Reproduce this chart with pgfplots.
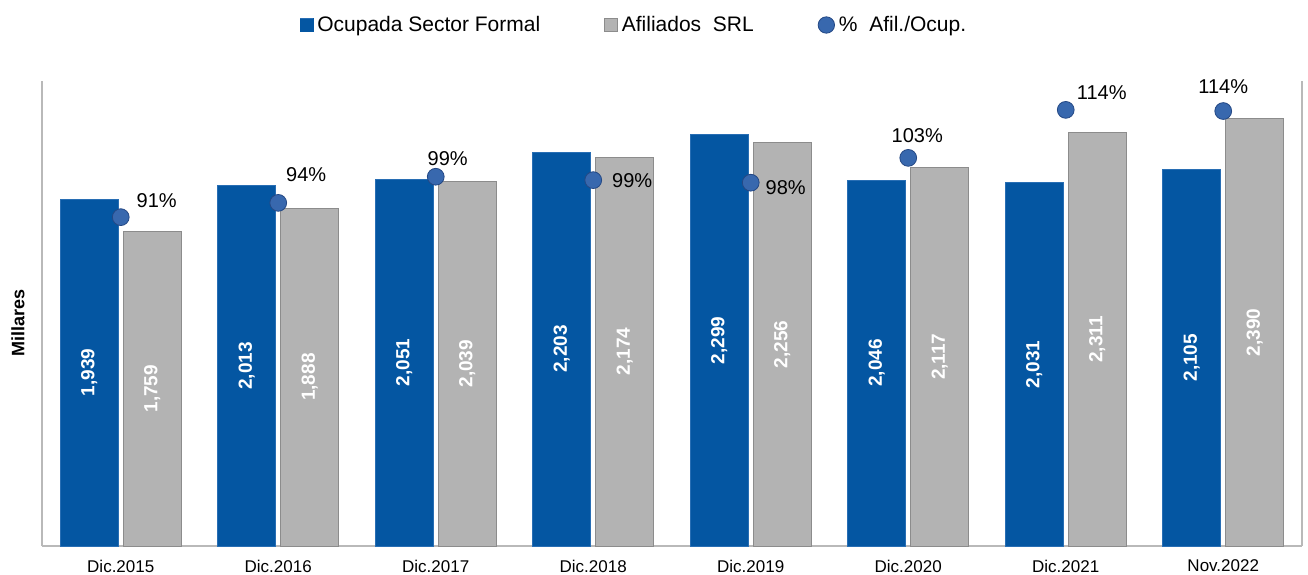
\documentclass[border=0pt]{standalone}
\usepackage{fontspec}
\setmainfont{Liberation Sans}
\usepackage{pgfplots}
\pgfplotsset{compat=1.18}
\usepackage{pgfplotstable}

\definecolor{azul}{RGB}{4,86,162}
\definecolor{azulborde}{RGB}{40,110,180}
\definecolor{gris}{RGB}{179,179,179}
\definecolor{grisborde}{RGB}{140,140,140}
\definecolor{bola}{RGB}{56,104,174}
\definecolor{bolaborde}{RGB}{36,72,132}
\definecolor{eje}{RGB}{185,185,185}

% miles de personas y relacion afiliados/ocupados (%)
\pgfplotstableread{
x ocup afil pct dx dy
0 1939 1759 90.72 18 8.5
1 2013 1888 93.79 14 14
2 2051 2039 99.41 6 9
3 2203 2174 98.68 19.5 0
4 2299 2256 98.13 17.5 -2.5
5 2046 2117 103.47 4.5 11
6 2031 2311 113.79 18 8.5
7 2105 2390 113.54 0 12
}\datos

\pgfplotsset{
  base/.style={
    scale only axis, width=630pt, height=232.5pt,
    xmin=-0.5, xmax=7.5,
    ytick=\empty,
    axis line style={eje, line width=0.6pt},
    /pgf/number format/assume math mode=true,
  },
}

\begin{document}
\begin{tikzpicture}
\useasboundingbox (-21pt,-14pt) rectangle (633pt,273pt);
\begin{axis}[
  base,
  ymin=0, ymax=2600,
  axis x line*=bottom, axis y line*=left,
  xtick={0,...,7},
  xticklabels={Dic.2015,Dic.2016,Dic.2017,Dic.2018,Dic.2019,Dic.2020,Dic.2021,Nov.2022},
  major tick length=0pt,
  xticklabel style={font=\fontsize{8.5}{10}\selectfont, yshift=-3.5pt},
  ylabel={Millares},
  ylabel style={at={(axis description cs:-0.019,0.48)}, anchor=center,
    font=\fontsize{9}{10}\selectfont\bfseries},
  /pgf/number format/1000 sep={,},
  every node near coord/.append style={text=white,
    font=\fontsize{9.5}{11}\selectfont\bfseries},
]
\addplot[ybar, bar width=0.37, bar shift=-0.2, fill=azul, draw=azulborde, line width=0.5pt,
  nodes near coords,
  visualization depends on={\thisrow{ocup} \as \alto},
  every node near coord/.append style={shift={(axis direction cs:-0.2,-\alto/2)}, rotate=90, anchor=center},
] table[x=x, y=ocup] {\datos};
\addplot[ybar, bar width=0.37, bar shift=0.2, fill=gris, draw=grisborde, line width=0.5pt,
  nodes near coords,
  visualization depends on={\thisrow{afil} \as \alto},
  every node near coord/.append style={shift={(axis direction cs:0.2,-\alto/2)}, rotate=90, anchor=center},
] table[x=x, y=afil] {\datos};
\end{axis}

\begin{axis}[
  base,
  ymin=20, ymax=120,
  axis x line=none, axis y line*=right,
  legend columns=3,
  legend style={draw=none, fill=none, at={(0.4706,1.1204)}, anchor=center,
    font=\fontsize{10.5}{12}\selectfont,
    /tikz/every even column/.append style={column sep=30pt},
    /tikz/every odd column/.append style={column sep=0pt}},
]
\addlegendimage{legend image code/.code={\fill[azul] (0pt,-3.2pt) rectangle (6.4pt,3.2pt);\draw[azulborde,line width=0.3pt] (0pt,3.2pt) -- (6.4pt,3.2pt);}}
\addlegendentry{Ocupada Sector Formal}
\addlegendimage{legend image code/.code={\fill[gris] (0pt,-3.2pt) rectangle (6.4pt,3.2pt);\draw[grisborde,line width=0.3pt] (0pt,-3.2pt) rectangle (6.4pt,3.2pt);}}
\addlegendentry{Afiliados\ \ SRL}
\addlegendimage{legend image code/.code={\filldraw[fill=bola, draw=bolaborde, line width=0.4pt] (4pt,0pt) circle (4.1pt);}}
\addlegendentry{\%\ \ Afil./Ocup.}
\addplot[only marks, mark=*, mark size=4.2pt,
  mark options={fill=bola, draw=bolaborde, line width=0.4pt},
  point meta=explicit,
  nodes near coords={\pgfmathprintnumber[fixed,precision=0]{\pgfplotspointmeta}\%},
  visualization depends on={\thisrow{dx} \as \dx},
  visualization depends on={\thisrow{dy} \as \dy},
  every node near coord/.append style={anchor=center, xshift=\dx pt, yshift=\dy pt,
    font=\fontsize{10}{12}\selectfont, text=black},
] table[x=x, y=pct, meta=pct] {\datos};
\end{axis}
\end{tikzpicture}
\end{document}
